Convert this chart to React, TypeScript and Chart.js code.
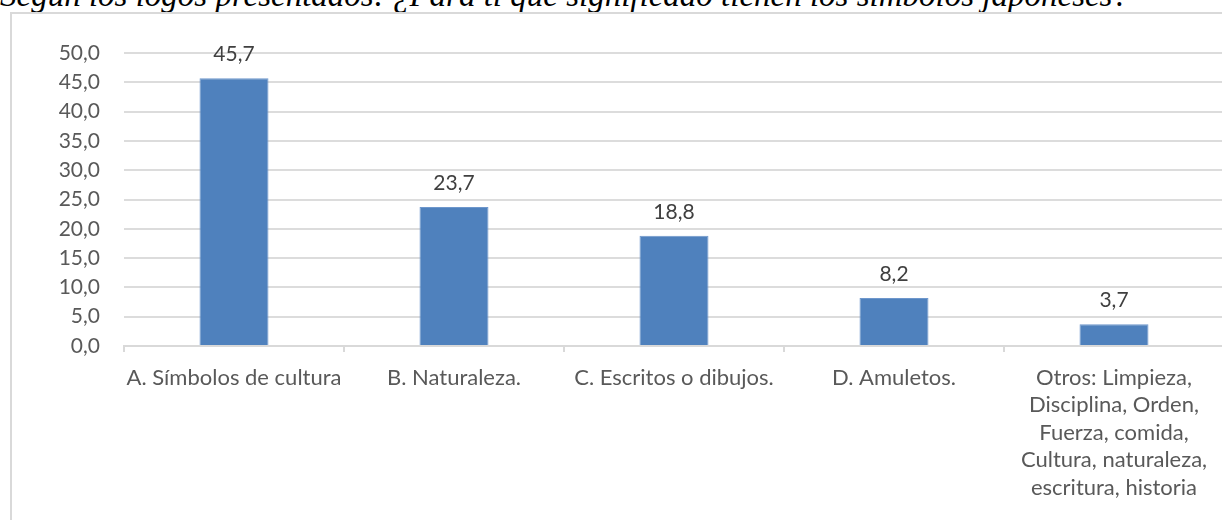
import React, { useEffect, useRef } from "react";
import { Chart, registerables } from "chart.js";

Chart.register(...registerables);

const TITLE = "Según los logos presentados: ¿Para ti qué significado tienen los símbolos japoneses?";
const categories: (string | string[])[] = [
  "A. Símbolos de cultura",
  "B. Naturaleza.",
  "C. Escritos o dibujos.",
  "D. Amuletos.",
  ["Otros: Limpieza,", "Disciplina, Orden,", "Fuerza, comida,", "Cultura, naturaleza,", "escritura, historia"],
];
const values = [45.7, 23.7, 18.8, 8.2, 3.7];
const yMin = 0;
const yMax = 50;
const yStep = 5;

const fmt = (v: number) => v.toFixed(1).replace(".", ",");

const dataLabelPlugin = {
  id: "dataLabels",
  afterDatasetsDraw(chart: any) {
    const ctx = chart.ctx;
    const meta = chart.getDatasetMeta(0);
    ctx.save();
    ctx.font = "21px Lato";
    ctx.fillStyle = "#404040";
    ctx.textAlign = "center";
    ctx.textBaseline = "middle";
    meta.data.forEach((bar: any, i: number) => {
      ctx.fillText(fmt(values[i]), bar.x, bar.y - 24);
    });
    ctx.restore();
  },
};

export default function App() {
  const ref = useRef<HTMLCanvasElement>(null);
  useEffect(() => {
    if (!ref.current) return;
    const chart = new Chart(ref.current, {
      type: "bar",
      data: {
        labels: categories,
        datasets: [
          {
            data: values,
            backgroundColor: "#4f81bd",
            borderColor: "#6e97cc",
            borderWidth: 1,
            barPercentage: 0.3136,
            categoryPercentage: 1,
          },
        ],
      },
      options: {
        responsive: false,
        animation: false,
        layout: { padding: { top: 53, right: 16, bottom: 0, left: 0 } },
        plugins: { legend: { display: false }, tooltip: { enabled: false } },
        scales: {
          x: {
            grid: {
              drawOnChartArea: false,
              drawTicks: true,
              tickLength: 6,
              color: "#d9d9d9",
              lineWidth: 2,
            },
            border: { color: "#d9d9d9", width: 2 },
            ticks: {
              autoSkip: false,
              maxRotation: 0,
              minRotation: 0,
              padding: 12,
              color: "#595959",
              font: { family: "Lato", size: 22, lineHeight: 1.25 },
            },
            afterFit: (s: any) => {
              s.height = 174;
            },
          },
          y: {
            min: yMin,
            max: yMax,
            grid: { color: "#dcdcdc", lineWidth: 2, drawTicks: false },
            border: { display: false },
            ticks: {
              stepSize: yStep,
              padding: 24,
              color: "#595959",
              font: { family: "Lato", size: 21 },
              callback: (v: any) => fmt(Number(v)),
            },
            afterFit: (s: any) => {
              s.width = 124;
            },
          },
        },
      },
      plugins: [dataLabelPlugin],
    });
    return () => chart.destroy();
  }, []);

  return (
    <div
      style={{
        position: "absolute",
        left: 0,
        top: 0,
        width: 1222,
        height: 520,
        overflow: "hidden",
        background: "#fff",
      }}
    >
      <div
        style={{
          position: "absolute",
          left: 0,
          top: -21,
          whiteSpace: "nowrap",
          fontFamily: "'Liberation Serif', 'Times New Roman', serif",
          fontStyle: "italic",
          fontSize: 33,
          lineHeight: "33px",
          color: "#000",
        }}
      >
        {TITLE}
      </div>
      <div
        style={{
          position: "absolute",
          left: 10,
          top: 12,
          width: 1300,
          height: 600,
          border: "2px solid #d9d9d9",
          boxSizing: "border-box",
        }}
      />
      <canvas
        ref={ref}
        width={1240}
        height={520}
        style={{ position: "absolute", left: 0, top: 0 }}
      />
    </div>
  );
}
